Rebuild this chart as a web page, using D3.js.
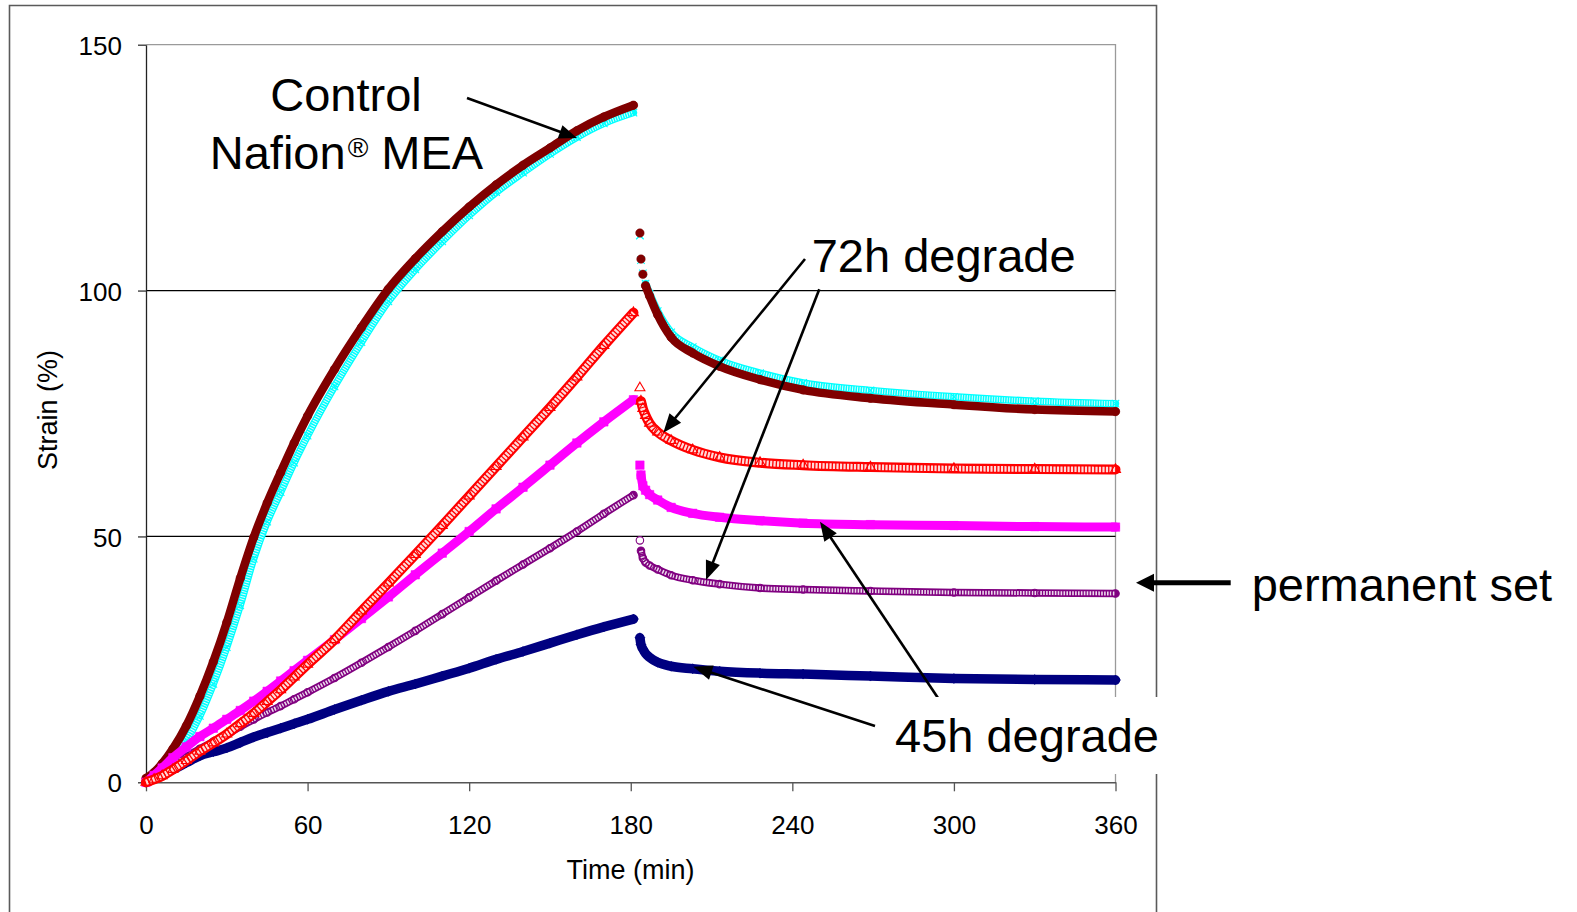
<!DOCTYPE html>
<html>
<head>
<meta charset="utf-8">
<script src="https://cdn.jsdelivr.net/npm/d3@7"></script>
<style>
  html, body { margin: 0; padding: 0; background: #fff; }
  svg { display: block; font-family: "Liberation Sans", Arial, Helvetica, sans-serif; }
</style>
</head>
<body>
<svg id="chart" width="1577" height="912"></svg>
<script>
// ---- data: strain (%) during 180 min of creep loading, then 180 min of recovery ----
const riseTimes = [0, 3, 6, 10, 15, 20, 25, 30, 35, 40, 45, 50, 55, 60, 70, 80, 90, 100, 110, 120, 130, 140, 150, 160, 170, 181];
const recoveryTimes = [183.4, 183.8, 184.5, 185.5, 187, 190, 195, 203, 213, 228, 244, 269, 300, 330, 360];

// Control Nafion MEA, sample 1 (dark red circles)
const controlARise = [0.8, 2, 3.8, 6.8, 11.5, 17.5, 24.5, 32.5, 41.5, 49.8, 56.8, 63, 69, 74.5, 84, 92.5, 100.3, 106.5, 112, 117, 121.5, 125.5, 129, 132.5, 135.3, 137.7];
const controlARecovery = [111.7, 106.4, 103.3, 101, 98.9, 95.1, 90.5, 87.3, 84.6, 81.9, 79.8, 78.1, 76.8, 75.8, 75.4];
// Control Nafion MEA, sample 2 (cyan crosses)
const controlBRise = [0.3, 1, 2.2, 4.6, 8.5, 13.5, 20, 27.5, 36, 45.5, 53, 59, 65, 70.5, 80.5, 89.5, 97.8, 104.3, 110, 115.3, 120, 124, 127.8, 131.2, 134, 136.2];
const controlBRecovery = [111.2, 106.2, 103.5, 101.4, 99.4, 95.8, 91.5, 88.5, 85.8, 83.2, 81.2, 79.7, 78.4, 77.5, 77];
// 72h degrade, sample 1 (red open triangles)
const deg72ARise = [0, 0.6, 1.3, 2.6, 4.4, 6.3, 8, 9.8, 11.9, 14, 16.4, 18.8, 21.4, 24, 29, 34.8, 40.5, 46.3, 52.2, 58.2, 64.2, 70.2, 76.2, 82.4, 88.8, 95.5];
const deg72ARecovery = [80.2, 77.5, 76, 74.6, 73, 71.2, 69.5, 67.6, 66.1, 65, 64.5, 64.1, 63.8, 63.7, 63.6];
// 72h degrade, sample 2 (magenta squares)
const deg72BRise = [0, 1.4, 2.9, 5, 7.2, 9.3, 11, 12.8, 14.6, 16.5, 18.5, 20.6, 22.7, 24.8, 29, 33.3, 37.7, 42.2, 46.6, 51, 55.6, 60, 64.5, 69, 73.3, 77.8];
const deg72BRecovery = [64.5, 62.5, 60.3, 59.4, 58.5, 57.4, 55.9, 54.7, 53.9, 53.2, 52.7, 52.4, 52.2, 52, 51.9];
// 45h degrade, sample 1 (purple open circles)
const deg45ARise = [0, 1.1, 2.2, 3.6, 5.2, 6.8, 8.3, 9.8, 11.3, 12.8, 14.2, 15.5, 16.9, 18.3, 21.2, 24.3, 27.5, 30.8, 34.2, 37.6, 41, 44.3, 47.6, 51, 54.6, 58.4];
const deg45ARecovery = [49.2, 47.1, 45.6, 44.7, 44.1, 43.3, 42.1, 41.1, 40.3, 39.5, 39.2, 38.9, 38.6, 38.5, 38.4];
// 45h degrade, sample 2 (navy diamonds)
const deg45BRise = [0, 0.8, 1.6, 2.6, 4, 5.4, 6.2, 7, 8.1, 9.2, 10.1, 11, 11.9, 12.8, 14.8, 16.7, 18.5, 20, 21.6, 23.2, 25, 26.6, 28.3, 30, 31.6, 33.2];
const deg45BRecovery = [29.4, 28, 27.1, 26.2, 25.4, 24.4, 23.6, 23.1, 22.6, 22.2, 22, 21.6, 21.1, 20.9, 20.8];

const xTicks = [0, 60, 120, 180, 240, 300, 360];
const yTicks = [0, 50, 100, 150];
const gridValues = [50, 100];

// ---- series styling (drawing order: first is at the back) ----
// band: width of the dense marker trail; inner: white hatch that gives hollow markers their texture;
// solo: number of leading recovery readings that stand apart as single markers
const series = [
  { rise: controlBRise, recovery: controlBRecovery, color: "#00FFFF", symbol: "x",        size: 7.5, band: 7.5, inner: { width: 5, dash: "1,1.5" }, solo: 3 },
  { rise: controlARise, recovery: controlARecovery, color: "#800000", symbol: "circle",   size: 8.5, band: 8.5, inner: null, solo: 3 },
  { rise: deg45BRise,   recovery: deg45BRecovery,   color: "#000080", symbol: "diamond",  size: 10,  band: 9.5, inner: null, solo: 0 },
  { rise: deg45ARise,   recovery: deg45ARecovery,   color: "#800080", symbol: "ocircle",  size: 7.5, band: 7.5, inner: { width: 4, dash: "1.6,1.3" }, solo: 1 },
  { rise: deg72BRise,   recovery: deg72BRecovery,   color: "#FF00FF", symbol: "square",   size: 8.5, band: 9,   inner: null, solo: 1 },
  { rise: deg72ARise,   recovery: deg72ARecovery,   color: "#FF0000", symbol: "triangle", size: 10,  band: 10,  inner: { width: 5.6, dash: "2.2,1.3" }, solo: 1 }
];

const svg = d3.select("#chart");
const x = d3.scaleLinear().domain([0, 360]).range([146, 1115.5]);
const y = d3.scaleLinear().domain([0, 150]).range([782.3, 44.7]);

// outer chart frame (bottom edge runs past the page)
svg.append("path")
  .attr("d", "M9.5,912 V5.5 H1156.5 V912")
  .attr("fill", "none").attr("stroke", "#5a5a5a").attr("stroke-width", 1.6);

// plot area border (top and right)
svg.append("path")
  .attr("d", `M${x(0)},${y(150)} H${x(360)} V${y(0)}`)
  .attr("fill", "none").attr("stroke", "#9a9a9a").attr("stroke-width", 1.3);

// horizontal gridlines
svg.append("g").selectAll("line").data(gridValues).join("line")
  .attr("x1", x(0)).attr("x2", x(360))
  .attr("y1", d => y(d)).attr("y2", d => y(d))
  .attr("stroke", "#000").attr("stroke-width", 1.2);

// axes
const yAxis = svg.append("g").attr("transform", `translate(${x(0)},0)`)
  .call(d3.axisLeft(y).tickValues(yTicks).tickSize(8).tickSizeOuter(0).tickPadding(16));
const xAxis = svg.append("g").attr("transform", `translate(0,${y(0)})`)
  .call(d3.axisBottom(x).tickValues(xTicks).tickSize(9).tickSizeOuter(0).tickPadding(0));
yAxis.select(".domain").attr("stroke", "#222").attr("stroke-width", 1.3);
xAxis.select(".domain").attr("stroke", "#555").attr("stroke-width", 1.5);
yAxis.selectAll(".tick line").attr("stroke", "#333").attr("stroke-width", 1.3);
xAxis.selectAll(".tick line").attr("stroke", "#555").attr("stroke-width", 1.3);
yAxis.selectAll(".tick text")
  .attr("font-size", 26).attr("font-family", "Liberation Sans, Arial, sans-serif")
  .attr("fill", "#000").attr("dy", "0.37em");
xAxis.selectAll(".tick text")
  .attr("font-size", 26).attr("font-family", "Liberation Sans, Arial, sans-serif")
  .attr("fill", "#000").attr("y", 52).attr("dy", 0);

// axis titles
svg.append("text").text("Time (min)")
  .attr("x", 630.5).attr("y", 879).attr("text-anchor", "middle")
  .attr("font-size", 27).attr("fill", "#000");
svg.append("text").text("Strain (%)")
  .attr("transform", "translate(57,410) rotate(-90)").attr("text-anchor", "middle")
  .attr("font-size", 27).attr("fill", "#000");

// ---- data series ----
const line = d3.line().x(d => x(d[0])).y(d => y(d[1])).curve(d3.curveMonotoneX);

function symbolPath(kind, size) {
  switch (kind) {
    case "circle":
    case "ocircle": return d3.symbol(d3.symbolCircle, Math.PI * (size / 2) ** 2)();
    case "square": return d3.symbol(d3.symbolSquare, size * size)();
    case "diamond": return d3.symbol(d3.symbolSquare, (size / Math.SQRT2) ** 2)();
    case "triangle": return d3.symbol(d3.symbolTriangle, Math.sqrt(3) / 4 * size * size)();
    case "x": return d3.symbol(d3.symbolX, (size / 2 / 0.6189) ** 2 + 1.7)();
  }
}
const hollow = k => k === "ocircle" || k === "triangle" || k === "x";

const plot = svg.append("g");
series.forEach(s => {
  const risePts = riseTimes.map((t, i) => [t, s.rise[i]]);
  const recPts = recoveryTimes.map((t, i) => [t, s.recovery[i]]);
  const g = plot.append("g");
  const bands = [risePts, recPts.slice(s.solo)];
  bands.forEach(pts => {
    g.append("path").attr("d", line(pts))
      .attr("fill", "none").attr("stroke", s.color).attr("stroke-width", s.band)
      .attr("stroke-linejoin", "round").attr("stroke-linecap", "round");
    if (s.inner) {
      g.append("path").attr("d", line(pts))
        .attr("fill", "none").attr("stroke", "#fff").attr("stroke-width", s.inner.width)
        .attr("stroke-dasharray", s.inner.dash).attr("stroke-opacity", 0.85);
    }
  });
  const pd = symbolPath(s.symbol, s.size);
  g.selectAll("path.m").data(risePts.concat(recPts)).join("path")
    .attr("class", "m").attr("d", pd)
    .attr("transform", d => `translate(${x(d[0])},${y(d[1])})` + (s.symbol === "diamond" ? " rotate(45)" : ""))
    .attr("fill", (d, i) => hollow(s.symbol)
      ? (i >= riseTimes.length && i < riseTimes.length + s.solo && s.symbol !== "x" ? "#fff" : "none")
      : s.color)
    .attr("stroke", s.color).attr("stroke-width", hollow(s.symbol) ? 1.1 : 0.5);
});

// ---- annotations ----
const arrows = [
  { from: [467, 98],      to: [577, 138],      w: 2.6, len: 18, half: 7 },
  { from: [805, 259],     to: [663.3, 432.7],  w: 2.6, len: 19, half: 7.5 },
  { from: [819.3, 289.3], to: [706, 580],      w: 2.6, len: 19, half: 7.5 },
  { from: [946.7, 711],   to: [820, 521.7],    w: 2.6, len: 19, half: 7.5 },
  { from: [875, 726],     to: [693.3, 666.7],  w: 2.6, len: 19, half: 7.5 },
  { from: [1230.7, 582.7], to: [1136, 582.7],  w: 5,   len: 18, half: 9 }
];
const ann = svg.append("g");
arrows.forEach(a => {
  const dx = a.to[0] - a.from[0], dy = a.to[1] - a.from[1];
  const L = Math.hypot(dx, dy), ux = dx / L, uy = dy / L;
  const bx = a.to[0] - ux * a.len, by = a.to[1] - uy * a.len;
  ann.append("line")
    .attr("x1", a.from[0]).attr("y1", a.from[1])
    .attr("x2", bx + ux * 2).attr("y2", by + uy * 2)
    .attr("stroke", "#000").attr("stroke-width", a.w);
  ann.append("path")
    .attr("d", `M${a.to[0]},${a.to[1]} L${bx - uy * a.half},${by + ux * a.half} L${bx + uy * a.half},${by - ux * a.half} Z`)
    .attr("fill", "#000");
});

// white box behind the lower label (it sits over the frame edge)
ann.append("rect").attr("x", 884).attr("y", 697).attr("width", 286).attr("height", 77).attr("fill", "#fff");

const labelFont = 47;
ann.append("text").text("Control")
  .attr("x", 346).attr("y", 111).attr("text-anchor", "middle").attr("font-size", labelFont);
const naf = ann.append("text").attr("x", 346.5).attr("y", 169).attr("text-anchor", "middle").attr("font-size", labelFont);
naf.append("tspan").text("Nafion");
naf.append("tspan").text("®").attr("font-size", 28).attr("dy", -12).attr("dx", 2);
naf.append("tspan").text(" MEA").attr("dy", 12);
ann.append("text").text("72h degrade").attr("x", 811.7).attr("y", 271.7).attr("font-size", labelFont);
ann.append("text").text("permanent set").attr("x", 1251.7).attr("y", 600.7).attr("font-size", labelFont);
ann.append("text").text("45h degrade").attr("x", 895).attr("y", 751.7).attr("font-size", labelFont);
</script>
</body>
</html>
